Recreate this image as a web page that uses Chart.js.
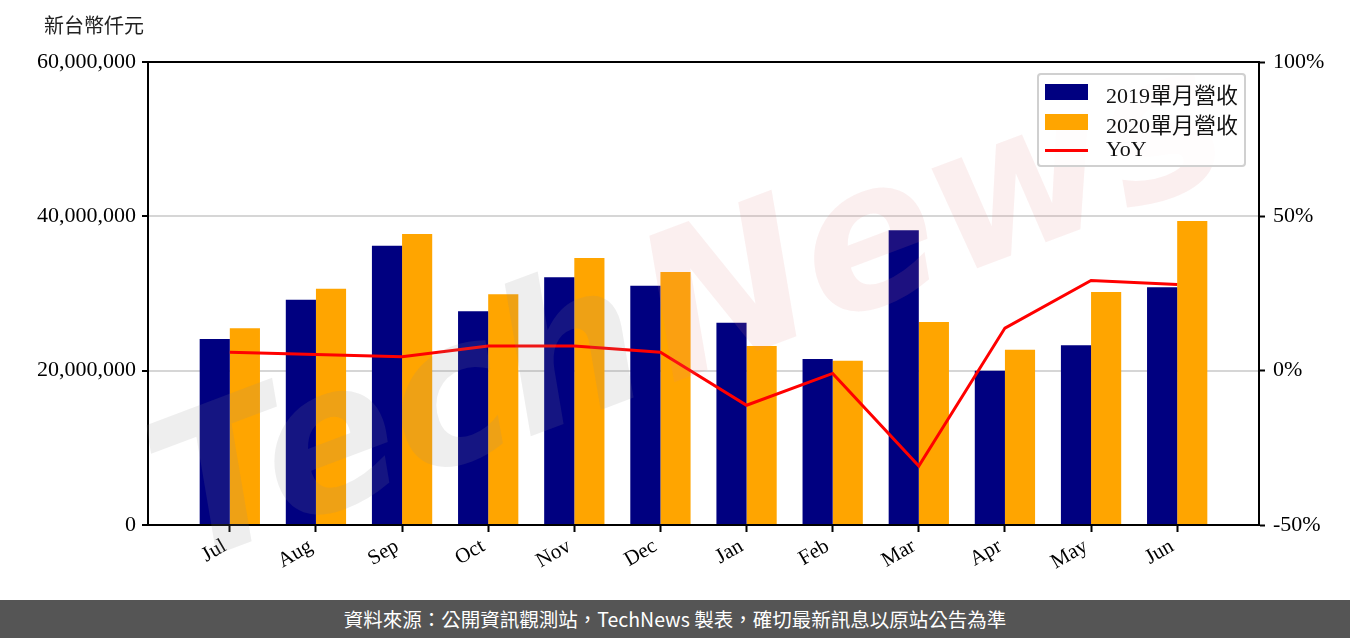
<!DOCTYPE html>
<html>
<head>
<meta charset="utf-8">
<script src="https://cdn.jsdelivr.net/npm/chart.js@4.4.1/dist/chart.umd.min.js"></script>
<style>
  body { margin: 0; width: 1350px; height: 638px; position: relative; background: #fff; overflow: hidden; }
  #wrap { position: absolute; left: 0; top: 0; width: 1350px; height: 600px; }
  #unit { position: absolute; left: 44px; top: 10px; font: 20px "Noto Sans CJK TC", sans-serif; color: #222; }
  #legend { position: absolute; left: 1037px; top: 73px; width: 205px; height: 90px; border: 2px solid #d0d0d0;
            border-radius: 4px; background: rgba(255,255,255,.85); }
  #legend .row { position: absolute; left: 0; height: 30px; width: 100%; }
  #legend .sw { position: absolute; left: 6px; width: 43px; }
  #legend .tx { position: absolute; left: 67px; top: 0; line-height: 30px; font: 22px "Liberation Serif", "Noto Sans CJK TC", serif; color: #111; white-space: nowrap; }
  #footer { position: absolute; left: 0; top: 600px; width: 1350px; height: 38px; background: #555; color: #fff;
            font: 19.5px "Noto Sans CJK TC", sans-serif; text-align: center; line-height: 38px; }
</style>
</head>
<body>
<div id="wrap"><canvas id="c" width="1350" height="600"></canvas></div>
<div id="unit">新台幣仟元</div>
<div id="legend"></div>
<div id="footer">資料來源：公開資訊觀測站，TechNews 製表，確切最新訊息以原站公告為準</div>
<script>
const months = ['Jul', 'Aug', 'Sep', 'Oct', 'Nov', 'Dec', 'Jan', 'Feb', 'Mar', 'Apr', 'May', 'Jun'];
const rev2019 = [24100000, 29200000, 36200000, 27700000, 32100000, 31000000, 26200000, 21500000, 38200000, 20000000, 23300000, 30800000];
const rev2020 = [25500000, 30600000, 37700000, 29900000, 34600000, 32800000, 23200000, 21300000, 26300000, 22700000, 30200000, 39400000];
const yoy = [6.0, 5.2, 4.5, 8.0, 8.0, 6.0, -11.2, -0.9, -30.9, 13.8, 29.2, 27.9];
const leftTicks = [0, 20000000, 40000000, 60000000];
const rightTicks = [-50, 0, 50, 100];
const seriesNames = ['2019單月營收', '2020單月營收', 'YoY'];
const seriesColors = ['#000080', '#FFA500', '#FF0000'];

const tickFont = { family: '"Liberation Serif", serif', size: 22 };

// legend as html, built from series
const lg = document.getElementById('legend');
seriesNames.forEach((name, i) => {
  const row = document.createElement('div');
  row.className = 'row';
  row.style.top = (2 + i * 29.5) + 'px';
  const sw = document.createElement('div');
  sw.className = 'sw';
  sw.style.background = seriesColors[i];
  if (i < 2) { sw.style.top = '7px'; sw.style.height = '16px'; }
  else { sw.style.top = '13px'; sw.style.height = '3px'; }
  const tx = document.createElement('div');
  tx.className = 'tx';
  tx.textContent = name;
  row.appendChild(sw);
  row.appendChild(tx);
  lg.appendChild(row);
});

const toXY = arr => arr.map((v, i) => ({ x: i, y: v }));

const frame = {
  id: 'frame',
  afterDatasetsDraw(chart) {
    const { ctx, chartArea: a } = chart;
    ctx.save();
    // watermark
    ctx.translate(660, 300);
    ctx.rotate(-0.36);
    ctx.font = 'italic bold 200px "DejaVu Sans", sans-serif';
    ctx.textBaseline = 'middle';
    ctx.fillStyle = 'rgba(140,140,140,.15)';
    ctx.fillText('Tech', -540, 30);
    ctx.fillStyle = 'rgba(225,130,130,.13)';
    ctx.fillText('News', -20, 30);
    ctx.restore();

    ctx.save();
    ctx.strokeStyle = '#000';
    ctx.lineWidth = 2;
    ctx.beginPath();
    ctx.moveTo(a.left - 1, a.top);
    ctx.lineTo(a.right + 1, a.top);
    ctx.stroke();
    ctx.restore();
  }
};

new Chart(document.getElementById('c'), {
  type: 'bar',
  data: {
    datasets: [
      { type: 'line', label: seriesNames[2], data: toXY(yoy), yAxisID: 'y1', borderColor: seriesColors[2],
        borderWidth: 3, pointRadius: 0, tension: 0, order: 0 },
      { label: seriesNames[0], data: toXY(rev2019), backgroundColor: seriesColors[0], yAxisID: 'y',
        barPercentage: 1, categoryPercentage: 0.7, order: 1 },
      { label: seriesNames[1], data: toXY(rev2020), backgroundColor: seriesColors[1], yAxisID: 'y',
        barPercentage: 1, categoryPercentage: 0.7, order: 1 }
    ]
  },
  options: {
    responsive: false,
    animation: false,
    devicePixelRatio: 1,
    layout: { padding: { top: 62, left: 0, right: 0, bottom: 0 } },
    plugins: { legend: { display: false }, tooltip: { enabled: false } },
    scales: {
      x: {
        type: 'linear', min: -0.95, max: 11.95, offset: false,
        afterBuildTicks: s => { s.ticks = months.map((_, i) => ({ value: i })); },
        afterFit: s => { s.height = 75; },
        ticks: { callback: v => months[v], autoSkip: false, minRotation: 30, maxRotation: 30,
                 color: '#000', font: { family: '"Liberation Serif", serif', size: 21 }, padding: 2, labelOffset: -5 },
        grid: { offset: false, drawOnChartArea: false, tickColor: '#000', tickLength: 7, tickWidth: 2 },
        border: { color: '#000', width: 2 }
      },
      y: {
        position: 'left', min: 0, max: 60000000,
        afterBuildTicks: s => { s.ticks = leftTicks.map(v => ({ value: v })); },
        afterFit: s => { s.width = 148; },
        ticks: { callback: v => v.toLocaleString('en-US'), color: '#000', font: tickFont, padding: 6 },
        grid: { color: '#d6d6d6', lineWidth: 2, tickColor: '#000', tickLength: 6, tickWidth: 2 },
        border: { color: '#000', width: 2 }
      },
      y1: {
        position: 'right', min: -50, max: 100,
        afterBuildTicks: s => { s.ticks = rightTicks.map(v => ({ value: v })); },
        afterFit: s => { s.width = 91; },
        ticks: { callback: v => v + '%', color: '#000', font: tickFont, padding: 8 },
        grid: { drawOnChartArea: false, tickColor: '#000', tickLength: 6, tickWidth: 2 },
        border: { color: '#000', width: 2 }
      }
    }
  },
  plugins: [frame]
});
</script>
</body>
</html>
